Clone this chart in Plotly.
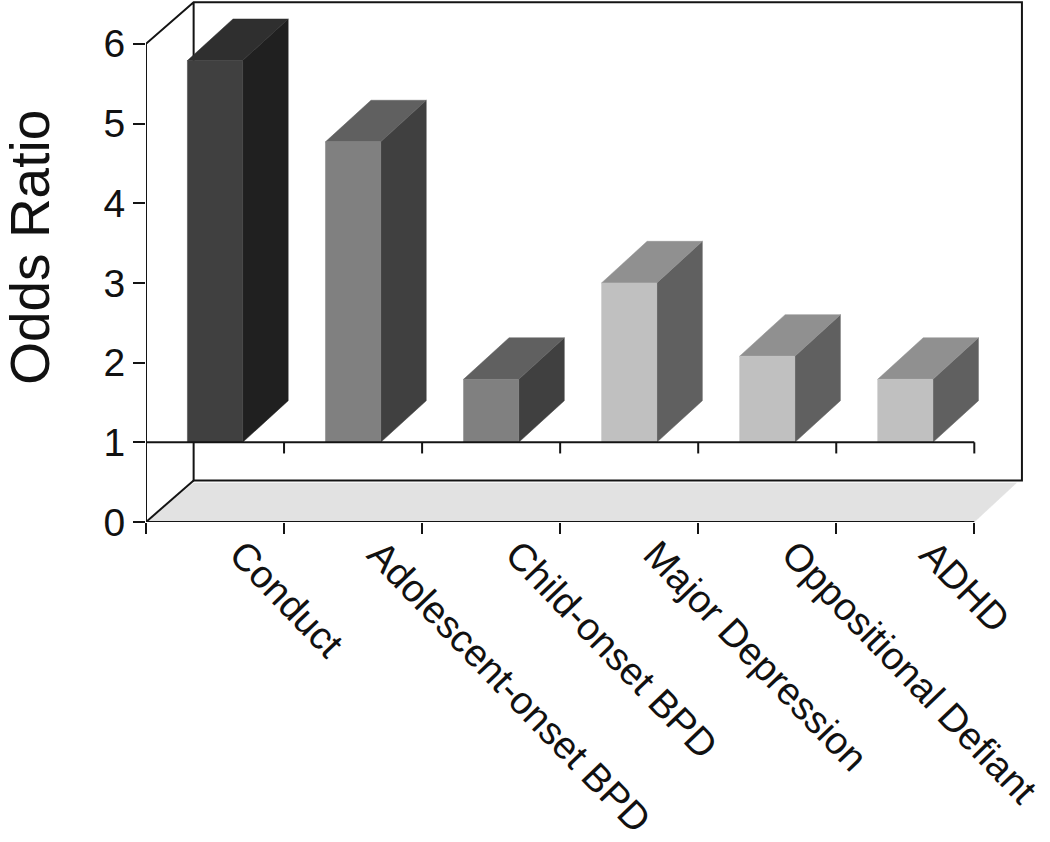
import plotly.graph_objects as go

categories = ["Conduct", "Adolescent-onset BPD", "Child-onset BPD",
              "Major Depression", "Oppositional Defiant", "ADHD"]
odds_ratio = [5.79, 4.77, 1.79, 3.0, 2.08, 1.79]
y_ticks = [0, 1, 2, 3, 4, 5, 6]
base_value = 1

front_colors = ["#404040", "#808080", "#808080", "#c0c0c0", "#c0c0c0", "#c0c0c0"]
top_colors = ["#2f2f2f", "#606060", "#606060", "#909090", "#909090", "#909090"]
side_colors = ["#202020", "#404040", "#404040", "#606060", "#606060", "#606060"]

BAR_WIDTH = 0.4
DX, DY = 0.345, 0.522      # depth of the box, in axis units
BDX, BDY = 0.33, 0.522     # depth of a bar, in axis units
FDX, FDY = 0.305, 0.49     # depth of the floor, in axis units
TICK = 0.14
INK = "#141414"
n = len(categories)
FONT = "Liberation Sans, Arial, sans-serif"

fig = go.Figure()


def poly(xs, ys, color):
    fig.add_trace(go.Scatter(x=xs + xs[:1], y=ys + ys[:1], mode="lines", fill="toself",
                             fillcolor=color, line=dict(color=color, width=0.5),
                             hoverinfo="skip", showlegend=False, cliponaxis=False))


def line(xs, ys):
    fig.add_trace(go.Scatter(x=xs, y=ys, mode="lines", line=dict(color=INK, width=2),
                             hoverinfo="skip", showlegend=False, cliponaxis=False))


# floor
poly([0, n, n + FDX, DX], [0, 0, FDY, FDY], "#e2e2e2")
# box walls
line([0, 0], [0, y_ticks[-1]])
line([0, DX, n + DX, n + DX, DX, DX],
     [y_ticks[-1], y_ticks[-1] + DY, y_ticks[-1] + DY, DY, DY, y_ticks[-1] + DY])
line([0, DX], [0, DY])
line([0, n], [0, 0])

# bars
for i, v in enumerate(odds_ratio):
    x0 = i + 0.5 - BAR_WIDTH / 2
    x1 = i + 0.5 + BAR_WIDTH / 2
    poly([x1, x1 + BDX, x1 + BDX, x1], [base_value, base_value + BDY, v + BDY, v], side_colors[i])
    poly([x0, x1, x1 + BDX, x0 + BDX], [v, v, v + BDY, v + BDY], top_colors[i])
    poly([x0, x1, x1, x0], [base_value, base_value, v, v], front_colors[i])

# front baseline at the bars' base value, with its ticks
line([0, n], [base_value, base_value])
for k in range(n + 1):
    line([k, k], [base_value, base_value - TICK])

fig.add_annotation(text="Odds Ratio", textangle=-90, showarrow=False,
                   xref="paper", x=0, xanchor="center", xshift=-116,
                   yref="y", y=3.44, yanchor="middle",
                   font=dict(family=FONT, size=55, color="#111111"))

fig.update_layout(
    width=1050, height=842, margin=dict(l=146, r=26, t=0, b=320, pad=0, autoexpand=False),
    paper_bgcolor="white", plot_bgcolor="white", showlegend=False,
    font=dict(family=FONT, color="#111111"),
    xaxis=dict(range=[0, 6.36], showgrid=False, zeroline=False, showline=False,
               automargin=False, ticklabeloverflow="allow",
               tickmode="array", tickvals=[i + 0.5 for i in range(n)], ticktext=categories,
               ticks="", tickangle=46, ticklabelstandoff=1, ticklabelshift=26,
               tickfont=dict(family=FONT, size=38.5, color="#111111"),
               minor=dict(tickmode="array", tickvals=list(range(n + 1)), ticks="outside",
                          ticklen=11, tickwidth=2, tickcolor=INK, showgrid=False)),
    yaxis=dict(range=[0, 6.55], showgrid=False, zeroline=False, showline=False,
               automargin=False,
               tickmode="array", tickvals=y_ticks, ticks="outside", ticklen=12,
               tickwidth=2, tickcolor=INK,
               tickfont=dict(family=FONT, size=39, color="#111111")),
)

fig.write_html("out.html", config={"displayModeBar": False},
               post_script="document.body.style.margin='0';")
